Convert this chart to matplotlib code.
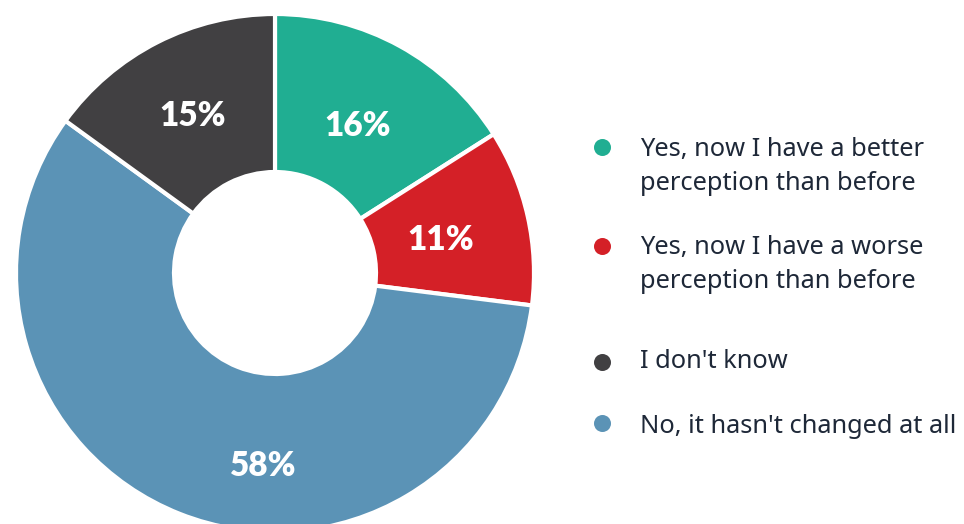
import numpy as np
import matplotlib.pyplot as plt

# --- data ---
categories = [
    "Yes, now I have a better\nperception than before",
    "Yes, now I have a worse\nperception than before",
    "No, it hasn't changed at all",
    "I don't know",
]
values = [16, 11, 58, 15]
colors = ["#20AE92", "#D42027", "#5B93B6", "#414042"]

legend_order = [0, 1, 3, 2]
text_color = "#1E2838"

fig = plt.figure(figsize=(9.64, 5.24), dpi=100)
ax = fig.add_axes([0, 0, 1, 1])

# pixel-like coordinate system so the ring sits where the reference has it
cx, cy, r_out, r_in = 275, 251, 259, 101
wedges, _ = ax.pie(values, colors=colors, startangle=90, counterclock=False,
                   center=(cx, cy), radius=r_out, frame=True,
                   wedgeprops=dict(width=r_out - r_in, edgecolor="white", linewidth=3))
ax.set_xlim(0, 964)
ax.set_ylim(0, 524)
ax.set_aspect("equal", adjustable="box")
ax.axis("off")

# percentage labels inside the ring segments (big segment label sits lower, as in the source)
label_r = [172, 170, 189, 181]
label_shift = [0, 0, 18, 0]  # degrees
for w, v, rr, sh in zip(wedges, values, label_r, label_shift):
    ang = np.deg2rad((w.theta1 + w.theta2) / 2 + sh)
    ax.text(cx + rr * np.cos(ang), cy + rr * np.sin(ang) - 4, f"{v}%",
            ha="center", va="center", color="white", fontsize=24,
            fontweight="heavy", family="Lato")

# legend drawn by hand
dot_y = [147, 246, 362, 423]
base_y = [156, 254, 368, 433]
line_gap = 34
for dy, by, i in zip(dot_y, base_y, legend_order):
    ax.scatter([602], [524 - dy], s=150, color=colors[i], zorder=5,
               clip_on=False, linewidths=0)
    for k, line in enumerate(categories[i].split("\n")):
        ax.text(640, 524 - by - k * line_gap, line, ha="left", va="baseline",
                fontsize=18.3, color=text_color, family="Noto Sans")

fig.savefig("out.png", dpi=100)
